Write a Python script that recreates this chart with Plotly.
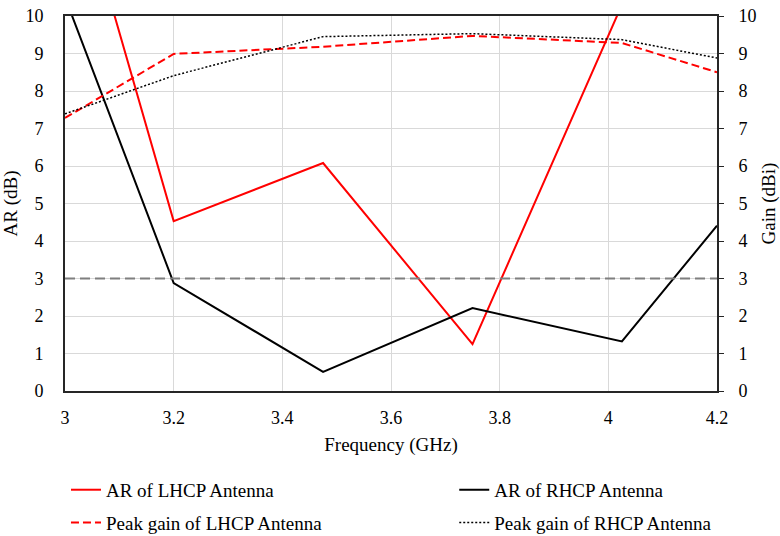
import plotly.graph_objects as go

freq = [3.0, 3.2, 3.475, 3.75, 4.025, 4.2]
ar_lhcp = [14.6, 4.53, 6.08, 1.25, 10.3, 14.0]
ar_rhcp = [10.5, 2.88, 0.51, 2.21, 1.32, 4.41]
gain_lhcp = [7.28, 8.99, 9.18, 9.47, 9.28, 8.50]
gain_rhcp = [7.39, 8.41, 9.45, 9.53, 9.37, 8.88]
ar_limit = 3

FONT = "Liberation Serif"
FT = dict(family=FONT, size=18, color="#000000")   # tick labels
FL = dict(family=FONT, size=19, color="#000000")   # titles / legend

fig = go.Figure()
fig.add_trace(go.Scatter(x=freq, y=ar_lhcp, mode="lines", name="AR of LHCP Antenna",
                         line=dict(color="#ff0000", width=2), legend="legend", legendgroup="a"))
fig.add_trace(go.Scatter(x=freq, y=gain_lhcp, mode="lines", name="Peak gain of LHCP Antenna",
                         line=dict(color="#ff0000", width=2, dash="8px,4px"), yaxis="y2",
                         legend="legend", legendgroup="b"))
fig.add_trace(go.Scatter(x=freq, y=ar_rhcp, mode="lines", name="AR of RHCP Antenna",
                         line=dict(color="#000000", width=2), legend="legend2", legendgroup="c"))
fig.add_trace(go.Scatter(x=freq, y=gain_rhcp, mode="lines", name="Peak gain of RHCP Antenna",
                         line=dict(color="#000000", width=1.5, dash="2px,2px"), yaxis="y2",
                         legend="legend2", legendgroup="d"))

fig.add_shape(type="line", xref="x", yref="y", x0=freq[0], x1=freq[-1], y0=ar_limit, y1=ar_limit,
              line=dict(color="#7f7f7f", width=2, dash="10px,5px"))

fig.update_layout(
    width=780, height=536,
    margin=dict(l=65, r=63, t=16, b=145, autoexpand=False),
    plot_bgcolor="white", paper_bgcolor="white",
    font=FL,
    xaxis=dict(range=[3, 4.2], dtick=0.2, tick0=3, showgrid=True, gridcolor="#d9d9d9", gridwidth=1,
               showline=True, linecolor="#262626", linewidth=2, mirror=True, ticks="",
               zeroline=False, ticklabelstandoff=9, tickfont=FT,
               title=dict(text="Frequency (GHz)", standoff=11, font=FL),
               tickformat="~g"),
    yaxis=dict(range=[0, 10], dtick=1, showgrid=True, gridcolor="#d9d9d9", gridwidth=1,
               showline=True, linecolor="#262626", linewidth=2, ticks="", zeroline=False,
               ticklabelstandoff=16, tickfont=FT, title=dict(text="AR (dB)", standoff=6, font=FL)),
    yaxis2=dict(range=[0, 10], dtick=1, overlaying="y", side="right", showgrid=False,
                showline=True, linecolor="#262626", linewidth=2, ticks="outside", ticklen=5,
                tickcolor="#262626", zeroline=False, ticklabelstandoff=11, tickfont=FT,
                title=dict(text="Gain (dBi)", standoff=8, font=FL)),
    legend=dict(x=0.0015, y=-0.213, xanchor="left", yanchor="top", bgcolor="rgba(0,0,0,0)",
                tracegroupgap=5, itemwidth=30, font=FL),
    legend2=dict(x=0.597, y=-0.213, xanchor="left", yanchor="top", bgcolor="rgba(0,0,0,0)",
                 tracegroupgap=5, itemwidth=30, font=FL),
)

fig.write_html("out.html")
